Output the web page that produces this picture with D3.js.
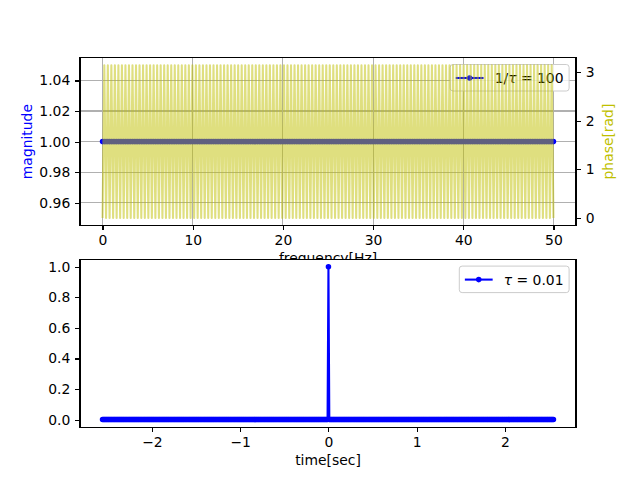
<!DOCTYPE html>
<html lang="en">
  <head>
    <meta charset="UTF-8" />
    <title>Impulse and its spectrum</title>
    <script src="https://cdnjs.cloudflare.com/ajax/libs/d3/7.8.5/d3.min.js"></script>
    <style>
      body {
        margin: 0;
        background: #fff;
      }
      text {
        font-family: "DejaVu Sans", sans-serif;
        font-size: 13.9px;
        fill: #000;
      }
      .crisp {
        shape-rendering: crispEdges;
      }
    </style>
  </head>
  <body>
    <div id="chart"></div>
    <script>
      // sampling: tau = 0.01 s, 512 samples
      const N = 512;
      const dt = 0.01;

      // |X(f)| for f = 0 .. 50 Hz (257 bins)
      const magnitude = [
        1,1,1,1,1,1,1,1, 1,1,1,1,1,1,1,1, 1,1,1,1,1,1,1,1, 1,1,1,1,1,1,1,1,
        1,1,1,1,1,1,1,1, 1,1,1,1,1,1,1,1, 1,1,1,1,1,1,1,1, 1,1,1,1,1,1,1,1,
        1,1,1,1,1,1,1,1, 1,1,1,1,1,1,1,1, 1,1,1,1,1,1,1,1, 1,1,1,1,1,1,1,1,
        1,1,1,1,1,1,1,1, 1,1,1,1,1,1,1,1, 1,1,1,1,1,1,1,1, 1,1,1,1,1,1,1,1,
        1,1,1,1,1,1,1,1, 1,1,1,1,1,1,1,1, 1,1,1,1,1,1,1,1, 1,1,1,1,1,1,1,1,
        1,1,1,1,1,1,1,1, 1,1,1,1,1,1,1,1, 1,1,1,1,1,1,1,1, 1,1,1,1,1,1,1,1,
        1,1,1,1,1,1,1,1, 1,1,1,1,1,1,1,1, 1,1,1,1,1,1,1,1, 1,1,1,1,1,1,1,1,
        1,1,1,1,1,1,1,1, 1,1,1,1,1,1,1,1, 1,1,1,1,1,1,1,1, 1,1,1,1,1,1,1,1,
        1
      ];

      // arg X(f) [rad], same bins
      const phase = [
        0,3.1416,0,3.1416,0,3.1416,0,3.1416, 0,3.1416,0,3.1416,0,3.1416,0,3.1416,
        0,3.1416,0,3.1416,0,3.1416,0,3.1416, 0,3.1416,0,3.1416,0,3.1416,0,3.1416,
        0,3.1416,0,3.1416,0,3.1416,0,3.1416, 0,3.1416,0,3.1416,0,3.1416,0,3.1416,
        0,3.1416,0,3.1416,0,3.1416,0,3.1416, 0,3.1416,0,3.1416,0,3.1416,0,3.1416,
        0,3.1416,0,3.1416,0,3.1416,0,3.1416, 0,3.1416,0,3.1416,0,3.1416,0,3.1416,
        0,3.1416,0,3.1416,0,3.1416,0,3.1416, 0,3.1416,0,3.1416,0,3.1416,0,3.1416,
        0,3.1416,0,3.1416,0,3.1416,0,3.1416, 0,3.1416,0,3.1416,0,3.1416,0,3.1416,
        0,3.1416,0,3.1416,0,3.1416,0,3.1416, 0,3.1416,0,3.1416,0,3.1416,0,3.1416,
        0,3.1416,0,3.1416,0,3.1416,0,3.1416, 0,3.1416,0,3.1416,0,3.1416,0,3.1416,
        0,3.1416,0,3.1416,0,3.1416,0,3.1416, 0,3.1416,0,3.1416,0,3.1416,0,3.1416,
        0,3.1416,0,3.1416,0,3.1416,0,3.1416, 0,3.1416,0,3.1416,0,3.1416,0,3.1416,
        0,3.1416,0,3.1416,0,3.1416,0,3.1416, 0,3.1416,0,3.1416,0,3.1416,0,3.1416,
        0,3.1416,0,3.1416,0,3.1416,0,3.1416, 0,3.1416,0,3.1416,0,3.1416,0,3.1416,
        0,3.1416,0,3.1416,0,3.1416,0,3.1416, 0,3.1416,0,3.1416,0,3.1416,0,3.1416,
        0,3.1416,0,3.1416,0,3.1416,0,3.1416, 0,3.1416,0,3.1416,0,3.1416,0,3.1416,
        0,3.1416,0,3.1416,0,3.1416,0,3.1416, 0,3.1416,0,3.1416,0,3.1416,0,3.1416,
        0
      ];

      // x(t): unit impulse at t = 0 (512 samples, t = -2.56 .. 2.55)
      const signal = [
        0,0,0,0,0,0,0,0, 0,0,0,0,0,0,0,0, 0,0,0,0,0,0,0,0, 0,0,0,0,0,0,0,0,
        0,0,0,0,0,0,0,0, 0,0,0,0,0,0,0,0, 0,0,0,0,0,0,0,0, 0,0,0,0,0,0,0,0,
        0,0,0,0,0,0,0,0, 0,0,0,0,0,0,0,0, 0,0,0,0,0,0,0,0, 0,0,0,0,0,0,0,0,
        0,0,0,0,0,0,0,0, 0,0,0,0,0,0,0,0, 0,0,0,0,0,0,0,0, 0,0,0,0,0,0,0,0,
        0,0,0,0,0,0,0,0, 0,0,0,0,0,0,0,0, 0,0,0,0,0,0,0,0, 0,0,0,0,0,0,0,0,
        0,0,0,0,0,0,0,0, 0,0,0,0,0,0,0,0, 0,0,0,0,0,0,0,0, 0,0,0,0,0,0,0,0,
        0,0,0,0,0,0,0,0, 0,0,0,0,0,0,0,0, 0,0,0,0,0,0,0,0, 0,0,0,0,0,0,0,0,
        0,0,0,0,0,0,0,0, 0,0,0,0,0,0,0,0, 0,0,0,0,0,0,0,0, 0,0,0,0,0,0,0,0,
        1,0,0,0,0,0,0,0, 0,0,0,0,0,0,0,0, 0,0,0,0,0,0,0,0, 0,0,0,0,0,0,0,0,
        0,0,0,0,0,0,0,0, 0,0,0,0,0,0,0,0, 0,0,0,0,0,0,0,0, 0,0,0,0,0,0,0,0,
        0,0,0,0,0,0,0,0, 0,0,0,0,0,0,0,0, 0,0,0,0,0,0,0,0, 0,0,0,0,0,0,0,0,
        0,0,0,0,0,0,0,0, 0,0,0,0,0,0,0,0, 0,0,0,0,0,0,0,0, 0,0,0,0,0,0,0,0,
        0,0,0,0,0,0,0,0, 0,0,0,0,0,0,0,0, 0,0,0,0,0,0,0,0, 0,0,0,0,0,0,0,0,
        0,0,0,0,0,0,0,0, 0,0,0,0,0,0,0,0, 0,0,0,0,0,0,0,0, 0,0,0,0,0,0,0,0,
        0,0,0,0,0,0,0,0, 0,0,0,0,0,0,0,0, 0,0,0,0,0,0,0,0, 0,0,0,0,0,0,0,0,
        0,0,0,0,0,0,0,0, 0,0,0,0,0,0,0,0, 0,0,0,0,0,0,0,0, 0,0,0,0,0,0,0,0
      ];

      const freqTicks = [0, 10, 20, 30, 40, 50];
      const magTicks = [0.96, 0.98, 1.0, 1.02, 1.04];
      const phaseTicks = [0, 1, 2, 3];
      const timeTicks = [-2, -1, 0, 1, 2];
      const ampTicks = [0, 0.2, 0.4, 0.6, 0.8, 1.0];

      // sample grids
      const freqs = magnitude.map((d, i) => i / (N * dt));
      const times = signal.map((d, i) => (i - signal.length / 2) * dt);

      // matplotlib-like 5% margins
      const padded = ([lo, hi]) => [lo - 0.05 * (hi - lo), hi + 0.05 * (hi - lo)];

      const width = 640;
      const height = 480;
      const left = 80;
      const right = 576;
      const top1 = 57.6, bot1 = 225.6;
      const top2 = 259.2, bot2 = 427.2;

      const lw = 2.08; // 1.5pt
      const tick = 4.86; // 3.5pt

      const svg = d3
        .select("#chart")
        .append("svg")
        .attr("width", width)
        .attr("height", height);

      svg.append("rect").attr("width", width).attr("height", height).attr("fill", "#fff");

      const defs = svg.append("defs");
      defs.append("clipPath").attr("id", "clip1")
        .append("rect").attr("x", left).attr("y", top1).attr("width", right - left).attr("height", bot1 - top1);
      defs.append("clipPath").attr("id", "clip2")
        .append("rect").attr("x", left).attr("y", top2).attr("width", right - left).attr("height", bot2 - top2);

      // scales
      const xFreq = d3.scaleLinear().domain(padded(d3.extent(freqs))).range([left, right]);
      const yMag = d3.scaleLinear().domain(padded([0.95, 1.05])).range([bot1, top1]);
      const yPhase = d3.scaleLinear().domain(padded(d3.extent(phase))).range([bot1, top1]);
      const xTime = d3.scaleLinear().domain(padded(d3.extent(times))).range([left, right]);
      const yAmp = d3.scaleLinear().domain(padded(d3.extent(signal))).range([bot2, top2]);

      function styleAxis(g) {
        g.select(".domain").remove();
        g.selectAll(".tick line").attr("stroke-width", 1.11).attr("class", "crisp");
      }

      function legend(g, xRight, yTop, parts, color) {
        const lg = g.append("g");
        const box = lg.append("rect");
        const label = lg.append("text").attr("y", yTop + 18.5);
        parts.forEach((p) => {
          label.append("tspan").attr("font-style", p.italic ? "italic" : null).text(p.t);
        });
        const tw = label.node().getComputedTextLength();
        const w = 5.56 + 27.8 + 11.1 + tw + 5.56;
        const x0 = xRight - w;
        box
          .attr("x", x0)
          .attr("y", yTop)
          .attr("width", w)
          .attr("height", 26.5)
          .attr("rx", 2.8)
          .attr("fill", "#fff")
          .attr("fill-opacity", 0.8)
          .attr("stroke", "#cccccc")
          .attr("stroke-width", 1);
        label.attr("x", x0 + 5.56 + 27.8 + 11.1);
        const hy = yTop + 13.5;
        lg.append("line")
          .attr("x1", x0 + 5.56).attr("x2", x0 + 5.56 + 27.8)
          .attr("y1", hy).attr("y2", hy)
          .attr("stroke", color).attr("stroke-width", lw);
        lg.append("circle")
          .attr("cx", x0 + 5.56 + 13.9).attr("cy", hy).attr("r", 2.08)
          .attr("fill", color).attr("stroke", color).attr("stroke-width", 1.39);
      }

      // ---------- top: spectrum ----------
      const grid = svg.append("g").attr("stroke", "#b0b0b0").attr("stroke-width", 1.11).attr("class", "crisp");
      grid.selectAll(".gx").data(freqTicks).enter().append("line")
        .attr("x1", (d) => xFreq(d)).attr("x2", (d) => xFreq(d))
        .attr("y1", top1).attr("y2", bot1);
      grid.selectAll(".gy").data(magTicks).enter().append("line")
        .attr("x1", left).attr("x2", right)
        .attr("y1", (d) => yMag(d)).attr("y2", (d) => yMag(d));

      const magG = svg.append("g").attr("clip-path", "url(#clip1)");
      magG.append("path")
        .datum(magnitude)
        .attr("fill", "none")
        .attr("stroke", "blue")
        .attr("stroke-width", lw)
        .attr("d", d3.line().x((d, i) => xFreq(freqs[i])).y((d) => yMag(d)));
      magG.selectAll("circle").data(magnitude).enter().append("circle")
        .attr("cx", (d, i) => xFreq(freqs[i]))
        .attr("cy", (d) => yMag(d))
        .attr("r", 2.08)
        .attr("fill", "blue")
        .attr("stroke", "blue")
        .attr("stroke-width", 1.39);

      legend(svg, right - 6.9, top1 + 6.9, [{ t: "1/" }, { t: "τ", italic: true }, { t: " = 100" }], "blue");

      svg.append("g").attr("clip-path", "url(#clip1)")
        .append("path")
        .datum(phase)
        .attr("fill", "none")
        .attr("stroke", "#bfbf00")
        .attr("stroke-opacity", 0.5)
        .attr("stroke-width", lw)
        .attr("stroke-linejoin", "round")
        .attr("d", d3.line().x((d, i) => xFreq(freqs[i])).y((d) => yPhase(d)));

      svg.append("rect")
        .attr("class", "crisp")
        .attr("x", left).attr("y", top1)
        .attr("width", right - left).attr("height", bot1 - top1)
        .attr("fill", "none").attr("stroke", "#000").attr("stroke-width", 1.11);

      svg.append("g")
        .attr("transform", `translate(0,${bot1})`)
        .call(d3.axisBottom(xFreq).tickValues(freqTicks).tickFormat(d3.format("d")).tickSize(tick).tickPadding(tick).tickSizeOuter(0))
        .call(styleAxis);
      svg.append("g")
        .attr("transform", `translate(${left},0)`)
        .call(d3.axisLeft(yMag).tickValues(magTicks).tickFormat(d3.format(".2f")).tickSize(tick).tickPadding(tick).tickSizeOuter(0))
        .call(styleAxis);
      svg.append("g")
        .attr("transform", `translate(${right},0)`)
        .call(d3.axisRight(yPhase).tickValues(phaseTicks).tickFormat(d3.format("d")).tickSize(tick).tickPadding(tick).tickSizeOuter(0))
        .call(styleAxis);

      svg.append("text")
        .attr("transform", `translate(32,${(top1 + bot1) / 2}) rotate(-90)`)
        .attr("text-anchor", "middle")
        .style("fill", "blue")
        .text("magnitude");
      svg.append("text")
        .attr("transform", `translate(613,${(top1 + bot1) / 2}) rotate(-90)`)
        .attr("text-anchor", "middle")
        .style("fill", "#bfbf00")
        .text("phase[rad]");

      // top x label ends up mostly behind the lower axes, as in the original
      svg.append("text")
        .attr("x", (left + right) / 2)
        .attr("y", 263)
        .attr("text-anchor", "middle")
        .text("frequency[Hz]");

      // ---------- bottom: time signal ----------
      svg.append("rect")
        .attr("x", left).attr("y", top2)
        .attr("width", right - left).attr("height", bot2 - top2)
        .attr("fill", "#fff");

      const sigG = svg.append("g").attr("clip-path", "url(#clip2)");
      sigG.append("path")
        .datum(signal)
        .attr("fill", "none")
        .attr("stroke", "blue")
        .attr("stroke-width", lw)
        .attr("stroke-linejoin", "round")
        .attr("d", d3.line().x((d, i) => xTime(times[i])).y((d) => yAmp(d)));
      sigG.selectAll("circle").data(signal).enter().append("circle")
        .attr("cx", (d, i) => xTime(times[i]))
        .attr("cy", (d) => yAmp(d))
        .attr("r", 2.08)
        .attr("fill", "blue")
        .attr("stroke", "blue")
        .attr("stroke-width", 1.39);

      legend(svg, right - 6.9, top2 + 6.9, [{ t: "τ", italic: true }, { t: " = 0.01" }], "blue");

      svg.append("rect")
        .attr("class", "crisp")
        .attr("x", left).attr("y", top2)
        .attr("width", right - left).attr("height", bot2 - top2)
        .attr("fill", "none").attr("stroke", "#000").attr("stroke-width", 1.11);

      svg.append("g")
        .attr("transform", `translate(0,${bot2})`)
        .call(d3.axisBottom(xTime).tickValues(timeTicks).tickFormat(d3.format("d")).tickSize(tick).tickPadding(tick).tickSizeOuter(0))
        .call(styleAxis);
      svg.append("g")
        .attr("transform", `translate(${left},0)`)
        .call(d3.axisLeft(yAmp).tickValues(ampTicks).tickFormat(d3.format(".1f")).tickSize(tick).tickPadding(tick).tickSizeOuter(0))
        .call(styleAxis);

      svg.append("text")
        .attr("x", (left + right) / 2)
        .attr("y", 465)
        .attr("text-anchor", "middle")
        .text("time[sec]");
    </script>
  </body>
</html>
